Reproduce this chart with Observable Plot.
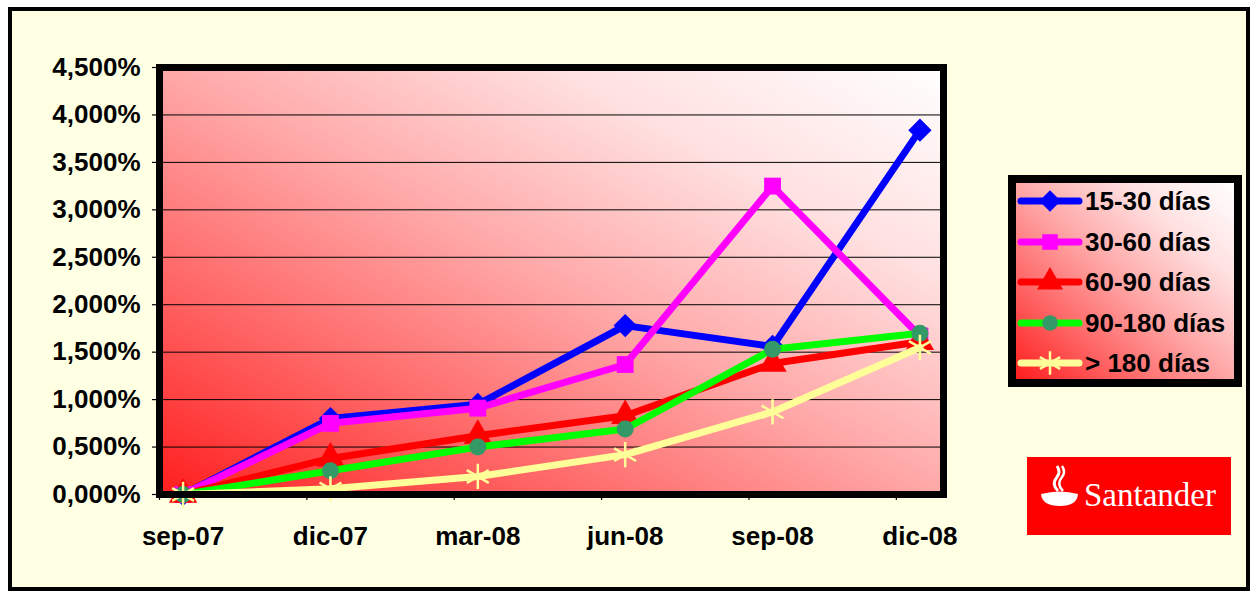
<!DOCTYPE html>
<html><head><meta charset="utf-8">
<script src="https://cdn.jsdelivr.net/npm/d3@7"></script>
<script src="https://cdn.jsdelivr.net/npm/@observablehq/plot@0.6"></script>
<style>
body{margin:0;background:#fff;width:1254px;height:593px;overflow:hidden;position:relative;font-family:"Liberation Sans",Arial,sans-serif;}
#frame{position:absolute;left:8px;top:7px;width:1234px;height:576px;border:4px solid #000;background:#FFFFE3;}
#chart{position:absolute;left:0;top:0;}
#legend{position:absolute;left:1008px;top:175px;width:218px;height:196px;border:8px solid #000;
  background:linear-gradient(to top right,#FF1E1E 0%,#FF6464 25%,#FFA8A8 50%,#FFE0E0 75%,#FFFFFF 100%);}
.row{position:absolute;left:0;height:40px;width:218px;}
.row svg{position:absolute;left:0;top:0;}
.row span{position:absolute;left:69px;top:4px;font-size:26px;font-weight:bold;line-height:32px;color:#000;white-space:nowrap;}
#logo{position:absolute;left:1027px;top:457px;width:204px;height:78px;background:#FF0000;}
#logo span{position:absolute;left:57px;top:19px;font-family:"Liberation Serif","Times New Roman",serif;font-size:33px;color:#fff;line-height:38px;}
</style></head>
<body>
<div id="frame"></div>
<div id="chart"></div>
<div id="legend"></div>
<div id="logo"><svg width="56" height="78" style="position:absolute;left:0;top:0">
<path d="M14,37 Q33,32 51,37 Q50,49 33,49 Q15,49 14,37 Z" fill="#fff"/>
<path d="M31,34 Q24,27 30,20 Q34,15 30,9" stroke="#fff" stroke-width="3" fill="none"/>
<path d="M36,34 Q29,27 35,20 Q39,15 35,9" stroke="#fff" stroke-width="2.5" fill="none"/>
</svg><span>Santander</span></div>
<script>
const categories = ["sep-07","dic-07","mar-08","jun-08","sep-08","dic-08"];
const seriesNames = ["15-30 días","30-60 días","60-90 días","90-180 días","> 180 días"];
const s1530 = [0, 0.80, 0.95, 1.78, 1.56, 3.84];
const s3060 = [0, 0.75, 0.91, 1.37, 3.25, 1.67];
const s6090 = [0, 0.38, 0.62, 0.83, 1.38, 1.61];
const s90180 = [0, 0.25, 0.50, 0.69, 1.53, 1.70];
const s180 = [0, 0.06, 0.19, 0.42, 0.87, 1.55];
const yTicks = [0,0.5,1,1.5,2,2.5,3,3.5,4,4.5];
const lineColors = ["#0000FF","#FF00FF","#FF0000","#00FF00","#FFFF99"];
const markerColors = ["#0000FF","#FF00FF","#FF0000","#339966","#FFFF99"];
const symbols = ["diamond2","square","triangle","circle","asterisk"];
const allValues = [s1530, s3060, s6090, s90180, s180];

const rows = [];
allValues.forEach((vals, si) => vals.forEach((v, i) => rows.push({series: seriesNames[si], i, cat: categories[i], v})));

const fmt = d => d.toFixed(3).replace(".", ",") + "%";
const catIdx = categories.map((c, i) => i);
const boundaries = d3.range(categories.length + 1).map(i => i - 0.16);
const markerR = {diamond2: 10.5, square: 9.5, triangle: 10.5, circle: 8.5, asterisk: 12};

const marks = [
  Plot.frame({fill: "url(#pg)"}),
  Plot.ruleY(yTicks.filter(d => d > 0), {stroke: "#000", strokeWidth: 1})
];
seriesNames.forEach((name, si) => {
  const data = rows.filter(r => r.series === name);
  marks.push(Plot.line(data, {x: "i", y: "v", stroke: lineColors[si], strokeWidth: 7, strokeLinejoin: "round", strokeLinecap: "round"}));
  const sym = symbols[si];
  if (sym === "asterisk") {
    marks.push(Plot.dot(data, {x: "i", y: "v", symbol: sym, r: markerR[sym], stroke: markerColors[si], strokeWidth: 2.5, fill: "none"}));
  } else {
    marks.push(Plot.dot(data, {x: "i", y: "v", symbol: sym, r: markerR[sym], fill: markerColors[si], stroke: "none"}));
  }
});
marks.push(Plot.frame({stroke: "#000", strokeWidth: 7}));
marks.push(Plot.axisY({ticks: yTicks, tickFormat: fmt, tickSize: 7, tickPadding: 12, label: null, stroke: "#000", strokeWidth: 1.2, fontSize: 26, fontWeight: "bold", fill: "#000"}));
marks.push(Plot.axisX({ticks: boundaries, tickFormat: () => "", tickSize: 6, label: null, stroke: "#000", strokeWidth: 1.2}));
marks.push(Plot.axisX({ticks: catIdx, tickFormat: i => categories[i], tickSize: 0, tickPadding: 32, label: null, fontSize: 26, fontWeight: "bold", fill: "#000"}));

const chart = Plot.plot({
  width: 1254, height: 593,
  marginLeft: 159, marginRight: 311, marginTop: 67, marginBottom: 99,
  x: {type: "linear", domain: [-0.16, categories.length - 1 + 0.16], axis: null, label: null},
  y: {domain: [0, 4.5], axis: null, label: null},
  style: {background: "transparent", fontFamily: "'Liberation Sans', Arial, sans-serif", fontSize: "26px", fontWeight: "bold", color: "#000", overflow: "visible"},
  marks
});
const defs = d3.select(chart).insert("defs", ":first-child");
const g = defs.append("linearGradient").attr("id", "pg").attr("x1", 0).attr("y1", 1).attr("x2", 1).attr("y2", 0);
[["0%","#FF1E1E"],["25%","#FF6464"],["50%","#FFA8A8"],["75%","#FFE0E0"],["100%","#FFFFFF"]].forEach(([o,c]) => g.append("stop").attr("offset", o).attr("stop-color", c));
document.getElementById("chart").appendChild(chart);

// legend built from the series arrays
const legend = d3.select("#legend");
const symMap = {diamond2: d3.symbolDiamond2, square: d3.symbolSquare, triangle: d3.symbolTriangle, circle: d3.symbolCircle, asterisk: d3.symbolAsterisk};
seriesNames.forEach((name, si) => {
  const row = legend.append("div").attr("class", "row").style("top", (-2 + 40.5 * si) + "px");
  const svg = row.append("svg").attr("width", 70).attr("height", 40);
  svg.append("line").attr("x1", 5).attr("x2", 63).attr("y1", 20).attr("y2", 20)
    .attr("stroke", lineColors[si]).attr("stroke-width", 7).attr("stroke-linecap", "round");
  const r = markerR[symbols[si]];
  const p = svg.append("path").attr("transform", "translate(34,20)").attr("d", d3.symbol(symMap[symbols[si]], r * r * Math.PI * 0.85)());
  if (symbols[si] === "asterisk") p.attr("fill", "none").attr("stroke", markerColors[si]).attr("stroke-width", 2.5);
  else p.attr("fill", markerColors[si]);
  row.append("span").text(name);
});
</script>
</body></html>
